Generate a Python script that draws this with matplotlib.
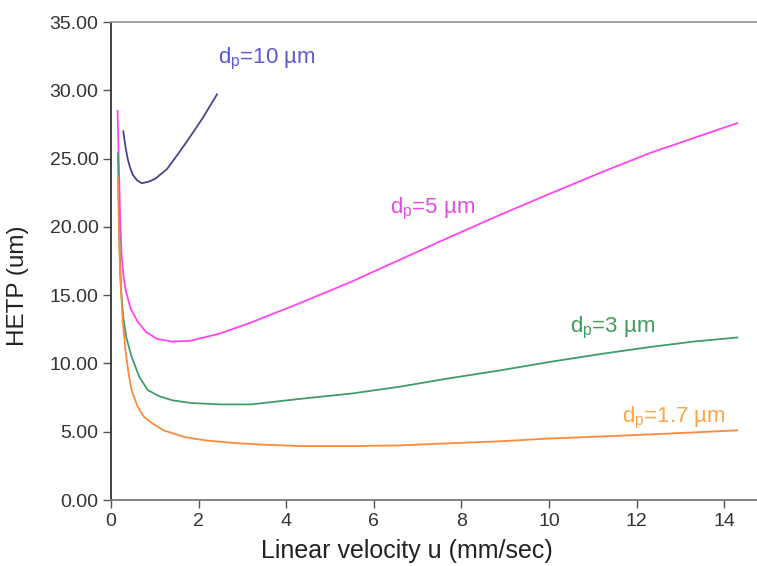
import numpy as np
import matplotlib
matplotlib.use("Agg")
import matplotlib.pyplot as plt

plt.rcParams['font.family'] = ['Liberation Sans', 'DejaVu Sans']
plt.rcParams['mathtext.fontset'] = 'custom'
plt.rcParams['mathtext.rm'] = 'Liberation Sans'
plt.rcParams['mathtext.it'] = 'Liberation Sans'

# HETP curves (velocity mm/sec, HETP um)
u_10 = [0.28, 0.33, 0.38, 0.43, 0.50, 0.60, 0.70, 0.85, 1.00, 1.27, 1.50, 1.70, 1.87, 2.10, 2.42]
h_10 = [27.0, 25.9, 25.0, 24.4, 23.8, 23.4, 23.2, 23.3, 23.5, 24.2, 25.2, 26.1, 26.9, 28.0, 29.7]

u_5 = [0.15, 0.18, 0.21, 0.245, 0.29, 0.34, 0.45, 0.62, 0.80, 1.05, 1.39, 1.80, 2.50, 3.20,
       4.30, 5.50, 6.60, 7.70, 8.90, 10.0, 11.2, 12.3, 13.3, 14.3]
h_5 = [28.5, 24.5, 20.5, 17.8, 16.3, 15.3, 14.0, 13.0, 12.3, 11.8, 11.6, 11.65, 12.2, 13.0,
       14.4, 16.0, 17.6, 19.2, 20.9, 22.4, 24.0, 25.4, 26.5, 27.6]

u_3 = [0.16, 0.18, 0.20, 0.23, 0.28, 0.35, 0.47, 0.65, 0.84, 1.10, 1.40, 1.84, 2.50, 3.20,
       4.30, 5.50, 6.60, 7.70, 8.90, 10.0, 11.2, 12.3, 13.3, 14.3]
h_3 = [25.4, 21.5, 18.0, 15.4, 13.4, 11.9, 10.5, 9.0, 8.05, 7.6, 7.3, 7.1, 7.0, 7.0,
       7.4, 7.8, 8.3, 8.9, 9.5, 10.1, 10.7, 11.2, 11.6, 11.9]

u_17 = [0.16, 0.18, 0.21, 0.27, 0.33, 0.40, 0.47, 0.60, 0.75, 0.93, 1.20, 1.69, 2.20, 2.83,
        3.50, 4.30, 5.50, 6.60, 7.70, 8.90, 10.0, 11.2, 12.3, 13.3, 14.3]
h_17 = [23.6, 20.0, 16.5, 13.0, 11.0, 9.3, 8.05, 6.9, 6.1, 5.64, 5.1, 4.6, 4.35, 4.17,
        4.05, 3.95, 3.95, 4.0, 4.15, 4.3, 4.5, 4.65, 4.8, 4.95, 5.1]

curves = [
    (u_10, h_10, '#46468f', '#5a5ad2', 'd$_\\mathrm{p}$=10 µm', 2.44, 32.0),
    (u_5, h_5, '#ff44f0', '#e64be6', 'd$_\\mathrm{p}$=5 µm', 6.37, 21.0),
    (u_3, h_3, '#3f9c6c', '#3f9c5c', 'd$_\\mathrm{p}$=3 µm', 10.48, 12.3),
    (u_17, h_17, '#ff8a3a', '#ffa548', 'd$_\\mathrm{p}$=1.7 µm', 11.66, 5.65),
]

fig = plt.figure(figsize=(7.57, 5.66), dpi=100)
ax = fig.add_axes([0.1466, 0.1166, 0.8534, 0.8445])

for u, h, lc, tc, label, tx, ty in curves:
    ax.plot(u, h, color=lc, linewidth=1.3)
    ax.text(tx, ty, label, color=tc, fontsize=16)

ax.set_xlim(0, 14.75)
ax.set_ylim(0, 35)
ax.set_xticks(np.arange(0, 15, 2))
ax.set_yticks(np.arange(0, 36, 5))
ax.set_yticklabels([f"{v:.2f}" for v in np.arange(0, 36, 5)])

ax.spines['right'].set_visible(False)
ax.spines['left'].set_color('#333333')
ax.spines['top'].set_color('#999999')
ax.spines['bottom'].set_color('#777777')
for s in ax.spines.values():
    s.set_linewidth(1.3)
ax.tick_params(axis='both', direction='out', length=6, width=1, colors='#555555',
               labelsize=14, labelcolor='#333333', pad=3)

ax.set_xlabel("Linear velocity u (mm/sec)", fontsize=18, color='#222222')
ax.set_ylabel("HETP (um)", fontsize=17.5, color='#222222')
# labels sit off-centre in the original
ax.xaxis.set_label_coords(0.458, -0.082)
ax.yaxis.set_label_coords(-0.127, 0.448)

fig.savefig("out.png", dpi=100)
